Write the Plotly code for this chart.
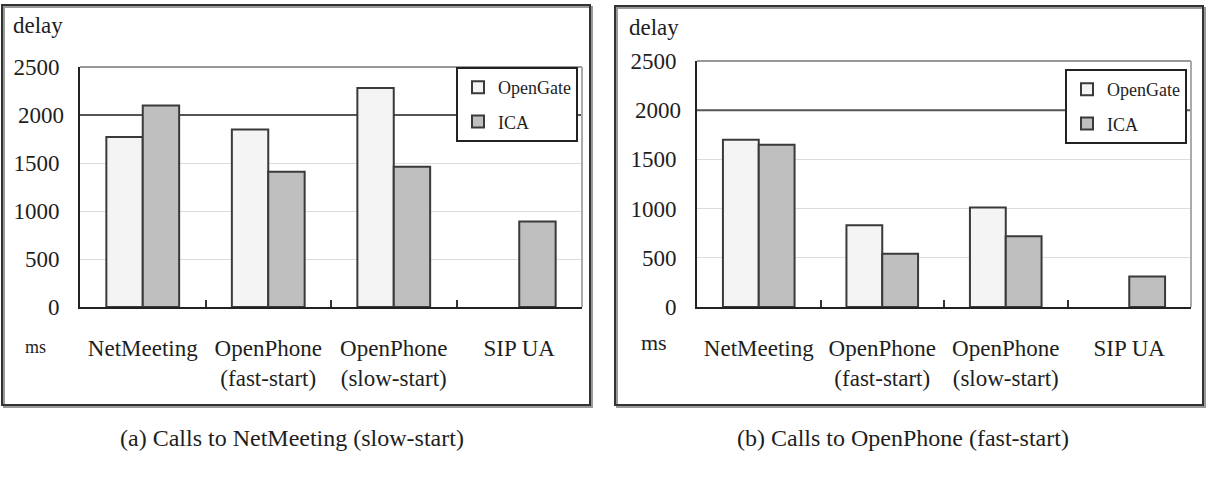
import plotly.graph_objects as go

categories = ["NetMeeting", "OpenPhone<br>(fast-start)", "OpenPhone<br>(slow-start)", "SIP UA"]
series_names = ["OpenGate", "ICA"]
a_opengate = [1770, 1850, 2280, None]
a_ica = [2100, 1410, 1460, 890]
b_opengate = [1700, 830, 1010, None]
b_ica = [1650, 540, 720, 310]
y_ticks = [0, 500, 1000, 1500, 2000, 2500]
ref_line = 2000
captions = ["(a) Calls to NetMeeting (slow-start)", "(b) Calls to OpenPhone (fast-start)"]

W, H = 1214, 480
FONT = "Liberation Serif, Times New Roman, DejaVu Serif, serif"
TXT = "#1e1e1e"
C_LIGHT = "#f4f4f4"
C_DARK = "#bfbfbf"
EDGE = "#3a3a3a"


def px(x):
    return x / W


def py(y):
    return 1 - y / H


fig = go.Figure()

panels = [
    dict(xa="x", ya="y", leg="legend", data=[a_opengate, a_ica]),
    dict(xa="x2", ya="y2", leg="legend2", data=[b_opengate, b_ica]),
]
colors = [C_LIGHT, C_DARK]
for p in panels:
    for name, vals, col in zip(series_names, p["data"], colors):
        fig.add_trace(go.Bar(
            x=categories, y=vals, name=name, xaxis=p["xa"], yaxis=p["ya"],
            marker=dict(color=col, line=dict(color=EDGE, width=2)),
            legend=p["leg"], legendgroup=p["leg"] + name,
        ))

# layout geometry (pixels)
L = dict(x0=80, x1=582, ytop=67, ybot=307)
R = dict(x0=697, x1=1191, ytop=61, ybot=307)

axfont = dict(family=FONT, size=23, color=TXT)


def xaxis(g, anchor):
    return dict(domain=[px(g["x0"]), px(g["x1"])], anchor=anchor,
                type="category", showline=True, linecolor="#222", linewidth=2,
                ticks="inside", tickson="boundaries", ticklen=7, tickcolor="#333",
                tickwidth=2, showgrid=False, tickfont=axfont, ticklabelstandoff=19,
                automargin=False, fixedrange=True)


def yaxis(g, anchor):
    return dict(domain=[py(g["ybot"]), py(g["ytop"])], anchor=anchor,
                range=[0, 2500], tickvals=[v for v in y_ticks if v != ref_line],
                showline=True, linecolor="#222",
                linewidth=2, ticks="", showgrid=True, gridcolor="#dcdcdc", gridwidth=1,
                zeroline=False, tickfont=axfont, ticklabelstandoff=14,
                automargin=False, fixedrange=True)


shapes = []
annotations = []
for g, xr, yr in [(L, "x", "y"), (R, "x2", "y2")]:
    # reference line at 2000
    shapes.append(dict(type="line", xref=xr + " domain", yref=yr, x0=0, x1=1,
                       y0=ref_line, y1=ref_line, line=dict(color="#555", width=2),
                       layer="below"))
    # top and right gray borders
    shapes.append(dict(type="line", xref=xr + " domain", yref=yr + " domain", x0=0, x1=1,
                       y0=1, y1=1, line=dict(color="#999", width=2)))
    shapes.append(dict(type="line", xref=xr + " domain", yref=yr + " domain", x0=1, x1=1,
                       y0=0, y1=1, line=dict(color="#aaa", width=2)))
    # tick label for the reference line value
    annotations.append(dict(text=str(ref_line), xref=xr + " domain", yref=yr,
                            x=0, y=ref_line, xanchor="right", yanchor="middle",
                            xshift=-14, showarrow=False, font=axfont))

# outer frames with slight shadow
for (x0, y0, x1, y1) in [(2, 5, 590, 405), (615, 6, 1203, 405)]:
    shapes.append(dict(type="rect", xref="paper", yref="paper",
                       x0=px(x0 + 2), x1=px(x1 + 2), y0=py(y1 + 2), y1=py(y0 + 2),
                       line=dict(color="#999", width=2)))
    shapes.append(dict(type="rect", xref="paper", yref="paper",
                       x0=px(x0), x1=px(x1), y0=py(y1), y1=py(y0),
                       line=dict(color="#333", width=2)))

paper_text = [
    ("delay", 38, 25, 23),
    ("delay", 654, 27, 23),
    ("ms", 35, 347, 18),
    ("ms", 654, 342, 22),
    (captions[0], 292, 438, 24),
    (captions[1], 903, 438, 24),
]
for t, x, y, s in paper_text:
    annotations.append(dict(text=t, x=px(x), y=py(y), xref="paper", yref="paper",
                            showarrow=False, xanchor="center", yanchor="middle",
                            font=dict(family=FONT, size=s, color=TXT)))

legfont = dict(family=FONT, size=18, color=TXT)
fig.update_layout(
    width=W, height=H, margin=dict(l=0, r=0, t=0, b=0, pad=0, autoexpand=False),
    paper_bgcolor="white", plot_bgcolor="white",
    barmode="group", bargap=0.42, bargroupgap=0,
    xaxis=xaxis(L, "y"), yaxis=yaxis(L, "x"),
    xaxis2=xaxis(R, "y2"), yaxis2=yaxis(R, "x2"),
    legend=dict(x=px(578), y=py(67), xanchor="right", yanchor="top",
                bgcolor="white", bordercolor="#222", borderwidth=2, font=legfont,
                tracegroupgap=8, itemwidth=30, traceorder="grouped"),
    legend2=dict(x=px(1187), y=py(69), xanchor="right", yanchor="top",
                 bgcolor="white", bordercolor="#222", borderwidth=2, font=legfont,
                 tracegroupgap=8, itemwidth=30, traceorder="grouped"),
    shapes=shapes, annotations=annotations,
    font=dict(family=FONT, color=TXT),
)

fig.write_html("out.html")
